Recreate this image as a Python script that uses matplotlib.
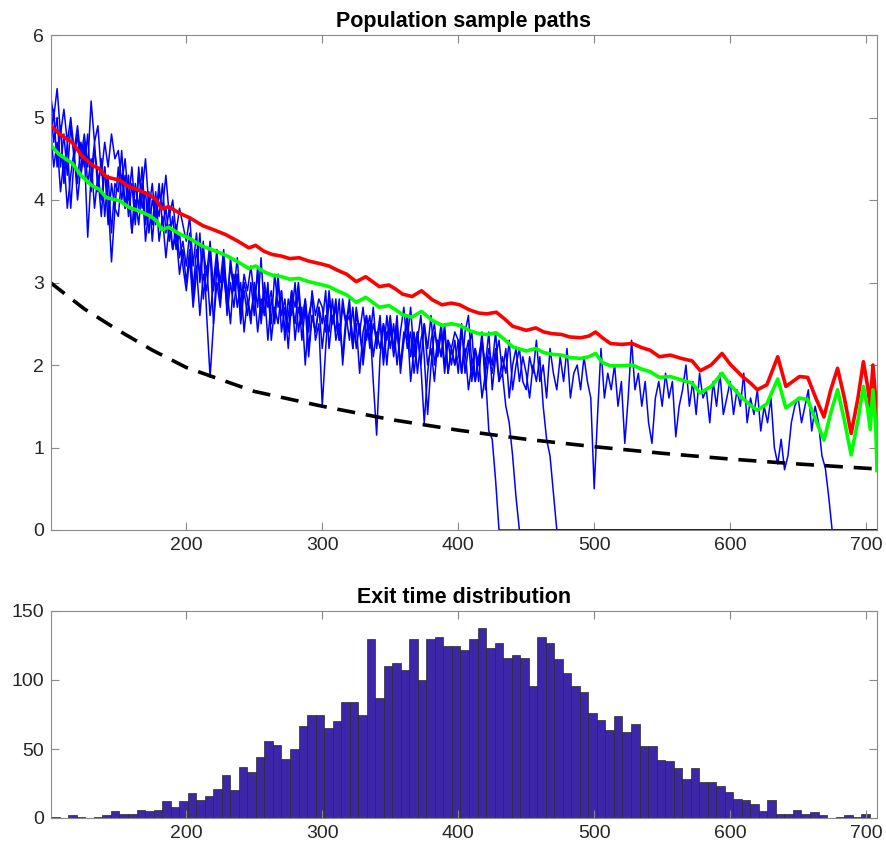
import numpy as np
import matplotlib.pyplot as plt

plt.rcParams['font.family'] = ['Liberation Sans', 'DejaVu Sans']

# Blue sample paths, one value every 2.5 time units from t = 100 (0 after exit)
path_step = 2.5
path_a = [5.3, 5.0, 5.35, 4.8, 5.1, 4.7, 5.0, 4.6, 4.9, 4.5, 4.8, 4.4, 5.2, 4.7, 4.9, 4.3, 4.7, 4.4, 4.8, 4.5,
          4.6, 4.2, 4.5, 4.0, 4.4, 3.8, 4.3, 4.1, 4.5, 3.9, 4.2, 3.7, 4.1, 3.9, 4.3, 3.8, 4.0, 3.6, 3.9, 3.7,
          3.5, 3.8, 3.2, 3.6, 3.0, 3.4, 3.1, 3.5, 2.9, 3.3, 3.0, 3.4, 2.8, 3.2, 2.9, 3.3, 2.7, 3.1, 2.9, 3.2,
          2.8, 3.1, 2.6, 3.0, 2.7, 2.9, 2.5, 3.0, 2.6, 2.8, 2.4, 2.9, 2.7, 3.0, 2.5, 2.8, 2.4, 2.9, 2.6, 2.8,
          2.7, 2.4, 2.9, 2.5, 2.8, 2.3, 2.7, 2.5, 2.8, 2.2, 2.6, 2.4, 2.7, 2.3, 2.5, 1.8, 1.15, 2.1, 2.5, 2.3,
          2.6, 2.2, 2.5, 2.0, 2.4, 2.3, 2.7, 2.1, 2.4, 2.0, 2.5, 2.2, 2.6, 2.0, 2.3, 2.1, 2.5, 1.9, 2.2, 2.0,
          2.3, 1.9, 2.2, 1.7, 2.0, 1.8, 2.1, 1.6, 1.9, 1.2, 1.1, 0.6]
path_b = [4.6, 5.1, 4.4, 4.9, 4.2, 4.7, 3.9, 4.5, 4.8, 4.3, 4.6, 3.55, 4.3, 4.7, 4.1, 4.5, 3.8, 4.3, 3.6, 4.2,
          4.1, 4.6, 3.9, 4.3, 3.6, 4.2, 3.9, 4.4, 3.7, 4.1, 3.5, 4.0, 3.8, 4.2, 3.6, 3.9, 3.4, 3.7, 3.3, 3.5,
          3.2, 3.6, 2.9, 3.4, 3.1, 3.5, 2.6, 1.85, 2.5, 3.2, 2.8, 3.3, 2.6, 3.0, 2.7, 3.1, 2.5, 2.9, 2.6, 3.0,
          2.6, 3.2, 2.5, 2.9, 2.3, 2.8, 2.6, 3.1, 2.4, 2.7, 2.2, 2.8, 2.5, 2.9, 2.3, 2.7, 2.1, 2.6, 2.4, 2.7,
          2.5, 2.9, 2.2, 2.6, 2.4, 2.8, 2.0, 2.5, 2.7, 2.3, 2.5, 1.9, 2.4, 2.6, 2.2, 2.5, 2.3, 2.6, 2.0, 2.4,
          2.4, 2.2, 2.6, 1.9, 2.3, 2.5, 1.8, 2.2, 2.4, 2.0, 1.3, 1.9, 2.3, 2.5, 2.1, 2.4, 1.9, 2.3, 2.0, 2.3,
          1.9, 2.4, 2.1, 2.3, 1.8, 2.2, 2.0, 2.4, 1.7, 2.1, 1.9, 2.2, 1.8, 1.9, 1.5, 1.3, 0.9, 0.4]
path_c = [5.2, 4.7, 5.0, 4.4, 4.8, 4.3, 4.9, 4.5, 4.2, 4.7, 4.4, 4.8, 4.1, 4.6, 4.3, 3.8, 4.4, 4.0, 3.25, 3.9,
          4.4, 4.0, 4.3, 3.8, 4.2, 3.7, 4.4, 3.9, 4.1, 3.6, 4.0, 3.8, 4.2, 3.7, 3.9, 3.5, 3.8, 3.4, 3.6, 3.2,
          2.9, 3.3, 2.7, 3.1, 3.6, 2.8, 3.2, 2.6, 3.0, 3.4, 2.8, 3.1, 2.7, 3.3, 2.9, 3.1, 2.6, 3.0, 2.8, 2.5,
          3.0, 2.7, 3.3, 2.6, 2.9, 2.5, 3.1, 2.7, 2.9, 2.3, 2.8, 2.6, 3.0, 2.4, 2.7, 2.0, 2.6, 2.8, 2.3, 2.5,
          1.5, 2.2, 2.8, 2.5, 2.7, 2.3, 2.8, 2.5, 2.6, 2.2, 2.7, 2.4, 2.1, 2.6, 2.3, 2.7, 2.2, 2.5, 2.1, 2.6,
          2.2, 2.5, 2.0, 2.4, 2.7, 2.2, 2.4, 1.9, 2.3, 2.6, 2.1, 1.4, 2.0, 2.4, 2.2, 2.5, 2.0, 2.3, 2.2, 2.4,
          2.3, 1.9, 2.4, 2.6, 2.0, 2.2, 1.8, 2.3, 2.0, 2.4, 1.7, 2.1, 2.3, 1.9, 2.2, 1.6, 2.0, 2.2, 1.8, 2.1,
          1.9, 1.6, 2.0, 1.8, 2.1, 1.5, 1.1, 0.9, 0.45]
path_d = [4.9, 4.4, 4.7, 4.1, 4.5, 3.9, 4.3, 4.6, 4.0, 4.4, 4.7, 4.2, 4.5, 3.9, 4.3, 4.0, 4.4, 3.7, 4.2, 3.9,
          3.8, 4.3, 3.9, 4.1, 3.6, 4.0, 3.7, 4.2, 3.5, 3.9, 3.7, 4.1, 3.5, 3.8, 3.3, 3.7, 3.4, 3.6, 3.1, 3.4,
          3.0, 3.4, 2.8, 3.2, 2.6, 3.1, 2.9, 3.4, 2.5, 3.0, 2.7, 3.2, 2.9, 2.5, 3.1, 2.7, 3.0, 2.4, 2.8, 2.6,
          2.9, 2.4, 2.8, 2.6, 3.0, 2.3, 2.7, 2.5, 2.9, 2.4, 2.6, 2.9, 2.3, 2.7, 2.5, 2.8, 2.2, 2.6, 2.4, 2.7,
          2.2, 2.6, 2.4, 2.8, 2.3, 2.5, 2.1, 2.6, 2.3, 2.7, 2.2, 2.5, 2.0, 2.4, 2.6, 2.1, 2.4, 2.2, 2.5, 2.0,
          2.5, 2.1, 2.4, 2.0, 2.3, 2.6, 2.1, 2.4, 1.9, 2.3, 2.5, 2.0, 2.2, 1.8, 2.3, 2.1, 2.4, 1.9, 2.2, 2.0,
          2.1, 2.5, 1.9, 2.2, 2.4, 1.8, 2.1, 2.3, 1.9, 2.2, 2.0, 2.4, 1.8, 2.1, 1.9, 2.3, 1.7, 2.0, 2.2, 1.8,
          1.7, 2.1, 1.9, 2.3, 1.8, 2.0, 1.6, 2.2, 1.9, 1.7, 2.1, 1.8, 2.2, 1.6, 1.9, 2.0, 1.7, 2.1, 1.8, 1.6,
          0.5, 1.4, 2.2, 1.6, 1.9, 1.7, 2.0, 1.5, 1.8, 1.05, 1.6, 2.3, 1.7, 1.9, 1.5, 1.8, 1.3, 1.05, 1.6, 1.8,
          1.5, 1.9, 1.6, 1.8, 1.13, 1.5, 1.7, 2.0, 1.5, 1.8, 1.4, 1.9, 1.6, 1.7, 1.3, 1.8, 1.5, 1.9, 1.4, 1.6,
          1.8, 1.4, 1.7, 1.5, 1.9, 1.3, 1.6, 1.4, 1.7, 1.2, 1.5, 1.3, 1.6, 1.0, 0.8, 1.1, 0.73, 0.9, 1.3, 1.5,
          1.6, 1.3, 1.5, 1.7, 1.2, 1.5, 1.3, 0.9, 0.75, 0.4]

# Red and green curves
curve_t = [100, 106, 112, 116, 123, 131, 136, 141, 151, 158,
           165, 173, 178, 182, 187, 195, 203, 212, 220, 229,
           238, 246, 251, 257, 263, 270, 276, 283, 290, 298,
           305, 311, 318, 325, 332, 337, 342, 349, 354, 359,
           366, 373, 381, 388, 395, 401, 408, 415, 421, 428,
           434, 440, 450, 457, 463, 469, 476, 482, 490, 496,
           501, 506, 512, 520, 528, 535, 541, 548, 556, 564,
           572, 578, 586, 594, 600, 609, 615, 620, 627, 635,
           641, 646, 651, 657, 663, 669, 674, 679, 684, 689,
           694, 698, 701, 703, 705, 707, 708]
red_y = [4.91, 4.81, 4.74, 4.70, 4.54, 4.42, 4.38, 4.28, 4.24, 4.16,
         4.12, 4.06, 4.00, 3.89, 3.92, 3.84, 3.78, 3.69, 3.64, 3.58,
         3.50, 3.42, 3.45, 3.38, 3.34, 3.32, 3.29, 3.30, 3.26, 3.23,
         3.20, 3.15, 3.10, 3.01, 3.07, 3.01, 2.95, 2.97, 2.92, 2.86,
         2.83, 2.90, 2.79, 2.73, 2.75, 2.73, 2.67, 2.63, 2.62, 2.64,
         2.56, 2.47, 2.42, 2.45, 2.40, 2.38, 2.37, 2.34, 2.33, 2.35,
         2.40, 2.33, 2.26, 2.25, 2.26, 2.21, 2.18, 2.10, 2.12, 2.08,
         2.05, 1.93, 2.00, 2.14, 2.01, 1.86, 1.78, 1.70, 1.76, 2.10,
         1.74, 1.80, 1.86, 1.85, 1.60, 1.37, 1.70, 1.96, 1.60, 1.17,
         1.60, 2.04, 1.75, 1.50, 2.00, 1.60, 1.05]
green_y = [4.67, 4.56, 4.49, 4.45, 4.29, 4.17, 4.13, 4.03, 3.99, 3.91,
           3.87, 3.81, 3.75, 3.64, 3.67, 3.59, 3.53, 3.44, 3.39, 3.33,
           3.25, 3.17, 3.20, 3.13, 3.09, 3.07, 3.04, 3.05, 3.01, 2.98,
           2.95, 2.90, 2.85, 2.76, 2.82, 2.76, 2.70, 2.72, 2.67, 2.61,
           2.58, 2.65, 2.54, 2.48, 2.50, 2.48, 2.42, 2.38, 2.37, 2.39,
           2.31, 2.22, 2.17, 2.20, 2.15, 2.13, 2.12, 2.09, 2.08, 2.10,
           2.14, 2.03, 1.99, 1.99, 2.00, 1.95, 1.92, 1.85, 1.86, 1.82,
           1.78, 1.66, 1.74, 1.90, 1.76, 1.60, 1.51, 1.45, 1.53, 1.83,
           1.48, 1.54, 1.60, 1.58, 1.33, 1.09, 1.42, 1.70, 1.33, 0.91,
           1.33, 1.74, 1.48, 1.22, 1.70, 1.30, 0.72]

# Black dashed boundary
bound_t = [100, 125, 150, 175, 200, 250, 300, 350, 400, 450, 500, 550, 600, 650, 708]
bound_y = [3.00, 2.68, 2.42, 2.18, 1.97, 1.68, 1.50, 1.34, 1.21, 1.10, 1.01, 0.93, 0.86, 0.80, 0.74]

# Exit time histogram (96 bins)
bin_start = 100.7
bin_width = 6.27
counts = [1, 0, 2, 1, 0, 1, 2, 5, 3, 3, 6, 5, 6, 12, 8, 12, 18, 13, 16, 21,
          31, 20, 37, 33, 44, 56, 53, 43, 50, 67, 75, 75, 65, 70,
          84, 84, 75, 130, 87, 110, 112, 107, 130, 100, 130, 131, 125, 125, 122, 130,
          138, 123, 127, 116, 118, 116, 96, 131, 127, 115, 105, 96, 91, 76, 71, 64, 74,
          62, 68, 52, 52, 42, 41, 36, 28, 36, 26, 26, 23, 19, 14, 13, 10, 5, 13,
          3, 3, 6, 3, 4, 2, 0, 1, 2, 1, 3]

xlim = (100.5, 708)

fig = plt.figure(figsize=(8.86, 8.51), dpi=100)
ax1 = fig.add_axes([51/886, 1 - 530/851, 826/886, 495/851])
ax2 = fig.add_axes([51/886, 1 - 818/851, 826/886, 207/851])

# Sample paths; a path that has exited stays at 0 until the end
t_grid = 100 + path_step * np.arange(245)
for p in [path_a, path_b, path_c, path_d]:
    y = np.concatenate([p, np.zeros(len(t_grid) - len(p))])
    ax1.plot(t_grid, y, color='b', lw=1.1)
ax1.plot(bound_t, bound_y, 'k--', lw=2.6, dashes=(5, 3))
ax1.plot(curve_t, red_y, color='r', lw=2.6)
ax1.plot(curve_t, green_y, color=(0, 1, 0), lw=2.6)
ax1.set_xlim(xlim)
ax1.set_ylim(0, 6)
ax1.set_xticks([200, 300, 400, 500, 600, 700])
ax1.set_yticks([0, 1, 2, 3, 4, 5, 6])
ax1.set_title('Population sample paths', fontsize=15.5, fontweight='bold', pad=6)

edges = bin_start + bin_width * np.arange(len(counts))
ax2.bar(edges, counts, width=bin_width, align='edge', color='#3d26a8',
        edgecolor='#2a2a2a', linewidth=0.5)
ax2.set_xlim(xlim)
ax2.set_ylim(0, 150)
ax2.set_xticks([200, 300, 400, 500, 600, 700])
ax2.set_yticks([0, 50, 100, 150])
ax2.set_title('Exit time distribution', fontsize=15.5, fontweight='bold', pad=6)

for ax in [ax1, ax2]:
    for s in ax.spines.values():
        s.set_color('#8a8a8a')
        s.set_linewidth(0.8)
    ax.tick_params(direction='in', length=6, width=0.8, color='#8a8a8a',
                   labelsize=14, labelcolor='#262626', top=True, right=True, pad=5)

plt.savefig('out.png')
